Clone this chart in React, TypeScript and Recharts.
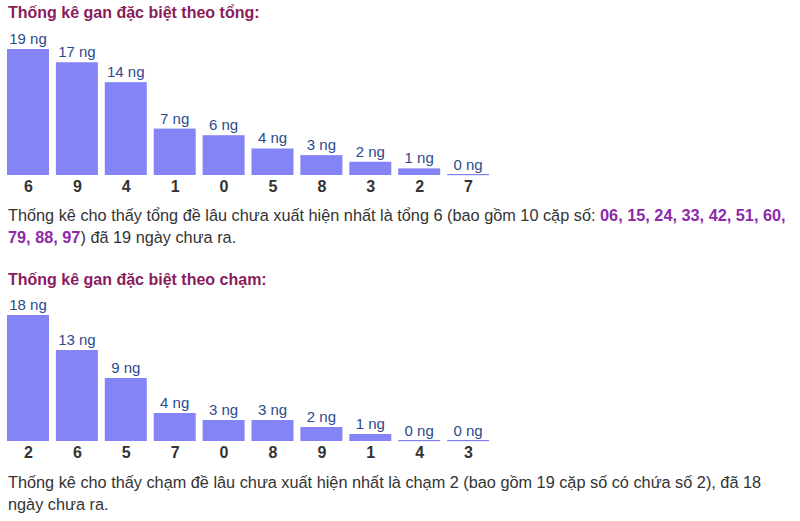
import React from "react";
import { BarChart, Bar, XAxis, YAxis, LabelList } from "recharts";

const tongDigits = ["6", "9", "4", "1", "0", "5", "8", "3", "2", "7"];
const tongDays = [19, 17, 14, 7, 6, 4, 3, 2, 1, 0];
const chamDigits = ["2", "6", "5", "7", "0", "8", "9", "1", "4", "3"];
const chamDays = [18, 13, 9, 4, 3, 3, 2, 1, 0, 0];
const tongPairs = ["06", "15", "24", "33", "42", "51", "60", "79", "88", "97"];

const BAR_COLOR = "#8484f6";
const LABEL_COLOR = "#2c4a8c";
const TITLE_COLOR = "#8a1c5c";
const PURPLE = "#8e2aa8";
const FONT = "Arial, 'Liberation Sans', sans-serif";

const tongData = tongDigits.map((d, i) => ({ digit: d, days: tongDays[i] }));
const chamData = chamDigits.map((d, i) => ({ digit: d, days: chamDays[i] }));

const BarShape = (props: any) => {
  const { x, y, width, height } = props;
  if (!height || height < 1) {
    return <rect x={x} y={y - 1} width={width} height={1.2} fill="#8080f0" />;
  }
  return <rect x={x} y={y} width={width} height={height} fill={BAR_COLOR} />;
};

const GanChart = ({ data, top }: { data: any[]; top: number }) => (
  <div style={{ position: "absolute", left: 0, top }}>
    <BarChart
      width={500}
      height={165}
      data={data}
      margin={{ top: 19, right: 7, bottom: 0, left: 4 }}
      barCategoryGap={0}
    >
      <XAxis
        dataKey="digit"
        axisLine={false}
        tickLine={false}
        tickMargin={0}
        height={20}
        interval={0}
        tick={{ fill: "#333", fontSize: 16, fontWeight: 700, fontFamily: FONT }}
      />
      <YAxis hide domain={[0, "dataMax"]} />
      <Bar dataKey="days" barSize={42} shape={BarShape} isAnimationActive={false}>
        <LabelList
          dataKey="days"
          position="top"
          formatter={(v: any) => `${v} ng`}
          style={{ fill: LABEL_COLOR, fontSize: 15, fontFamily: FONT }}
        />
      </Bar>
    </BarChart>
  </div>
);

const titleStyle: React.CSSProperties = {
  position: "absolute",
  left: 8,
  fontFamily: FONT,
  fontSize: 16,
  fontWeight: 700,
  color: TITLE_COLOR,
  lineHeight: "20px",
  whiteSpace: "nowrap",
};

const paraStyle: React.CSSProperties = {
  position: "absolute",
  left: 8,
  fontFamily: FONT,
  fontSize: 16.3,
  color: "#333",
  lineHeight: "22px",
  whiteSpace: "nowrap",
};

export default function App() {
  const first = tongPairs.slice(0, 7).join(", ") + ",";
  const second = tongPairs.slice(7).join(", ");
  return (
    <div style={{ position: "absolute", left: 0, top: 0, width: 800, height: 521, background: "#fff" }}>
      <div style={{ ...titleStyle, top: 3 }}>Thống kê gan đặc biệt theo tổng:</div>
      <GanChart data={tongData} top={30} />
      <div style={{ ...paraStyle, top: 204 }}>
        Thống kê cho thấy tổng đề lâu chưa xuất hiện nhất là tổng 6 (bao gồm 10 cặp số:{" "}
        <b style={{ color: PURPLE }}>{first}</b>
        <br />
        <b style={{ color: PURPLE }}>{second}</b>) đã 19 ngày chưa ra.
      </div>
      <div style={{ ...titleStyle, top: 270 }}>Thống kê gan đặc biệt theo chạm:</div>
      <GanChart data={chamData} top={296} />
      <div style={{ ...paraStyle, top: 471 }}>
        Thống kê cho thấy chạm đề lâu chưa xuất hiện nhất là chạm 2 (bao gồm 19 cặp số có chứa số 2), đã 18
        <br />
        ngày chưa ra.
      </div>
    </div>
  );
}
